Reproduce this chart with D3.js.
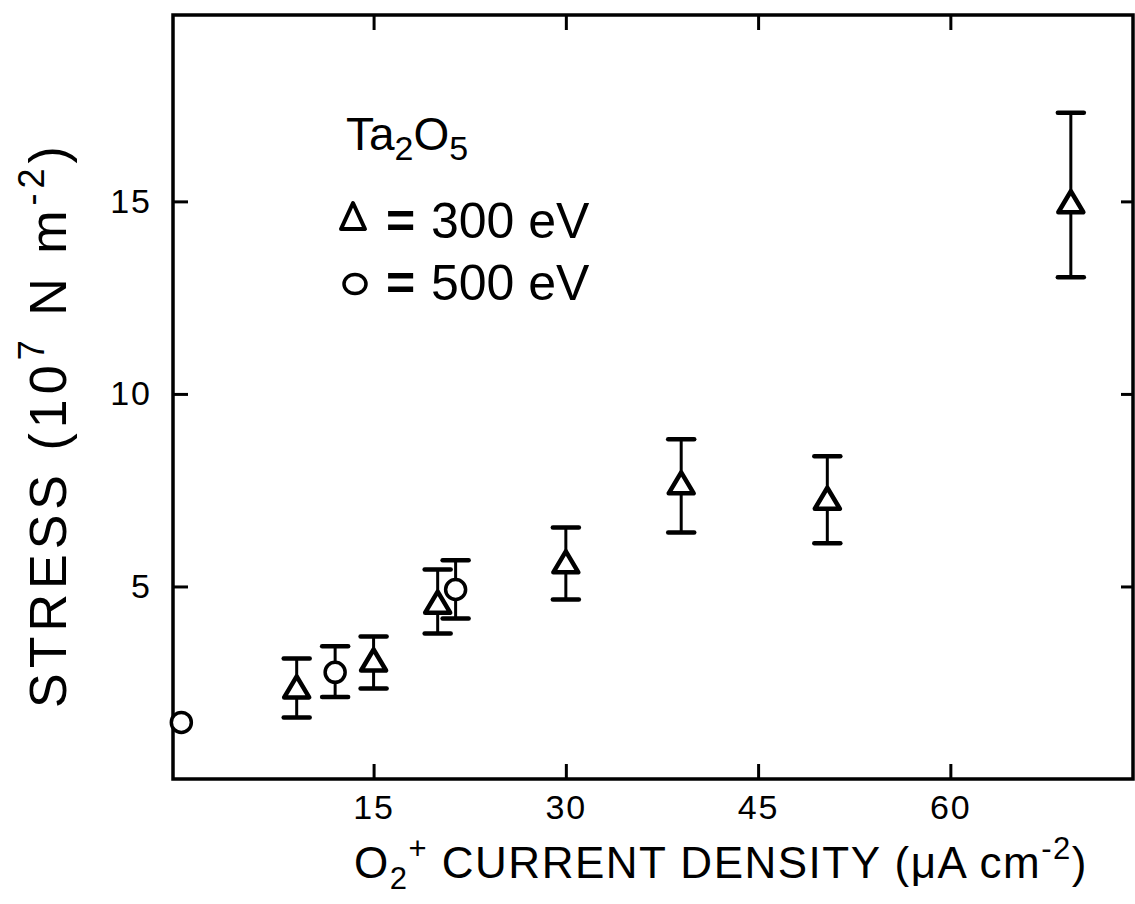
<!DOCTYPE html>
<html>
<head>
<meta charset="utf-8">
<script src="https://cdn.jsdelivr.net/npm/d3@7"></script>
<style>
  html, body { margin: 0; padding: 0; background: #fff; }
  svg text { font-family: "Liberation Sans", Arial, Helvetica, sans-serif; fill: #000; }
</style>
</head>
<body>
<svg id="chart" width="1135" height="904"></svg>
<script>
// Ta2O5 film stress versus O2+ current density
// 300 eV beam (triangles)
const triCurrent = [9, 15, 20, 30, 39, 50.4, 69.4];
const triStress  = [2.3, 3.0, 4.5, 5.55, 7.6, 7.2, 14.9];
const triHigh    = [3.13, 3.7, 5.44, 6.53, 8.82, 8.38, 17.3];
const triLow     = [1.6, 2.35, 3.78, 4.66, 6.4, 6.12, 13.03];

// 500 eV beam (circles); the first point has no error bar
const circCurrent = [0, 12, 21.4];
const circStress  = [1.47, 2.77, 4.92];
const circHigh    = [null, 3.45, 5.68];
const circLow     = [null, 2.13, 4.17];

const xTicks = [15, 30, 45, 60];
const yTicks = [5, 10, 15];

const legendLabels = ["300 eV", "500 eV"];

const svg = d3.select("#chart");
const plotL = 173, plotR = 1133, plotT = 15, plotB = 779;

const x = d3.scaleLinear().domain([-0.65, 74.25]).range([plotL, plotR]);
const y = d3.scaleLinear().domain([0, 19.84]).range([plotB, plotT]);

const ink = "#000";

// frame
svg.append("rect")
  .attr("x", plotL).attr("y", plotT)
  .attr("width", plotR - plotL).attr("height", plotB - plotT)
  .attr("fill", "none").attr("stroke", ink).attr("stroke-width", 3.5);

// axes with inward ticks
const tickLen = 15;
svg.append("g").attr("transform", `translate(0,${plotB})`)
  .call(d3.axisBottom(x).tickValues(xTicks).tickSizeInner(-tickLen).tickSizeOuter(0).tickPadding(16))
  .call(g => g.select(".domain").remove())
  .call(g => g.selectAll("line").attr("stroke", ink).attr("stroke-width", 3))
  .call(g => g.selectAll("text").attr("font-size", 34).attr("font-family", null)
    .attr("letter-spacing", 2).attr("dy", "0.71em"));

svg.append("g").attr("transform", `translate(0,${plotT})`)
  .call(d3.axisTop(x).tickValues(xTicks).tickSizeInner(-tickLen).tickSizeOuter(0).tickFormat(""))
  .call(g => g.select(".domain").remove())
  .call(g => g.selectAll("line").attr("stroke", ink).attr("stroke-width", 3));

svg.append("g").attr("transform", `translate(${plotL},0)`)
  .call(d3.axisLeft(y).tickValues(yTicks).tickSizeInner(-tickLen).tickSizeOuter(0).tickPadding(21))
  .call(g => g.select(".domain").remove())
  .call(g => g.selectAll("line").attr("stroke", ink).attr("stroke-width", 3))
  .call(g => g.selectAll("text").attr("font-size", 34).attr("font-family", null)
    .attr("letter-spacing", 2));

svg.append("g").attr("transform", `translate(${plotR},0)`)
  .call(d3.axisRight(y).tickValues(yTicks).tickSizeInner(-12).tickSizeOuter(0).tickFormat(""))
  .call(g => g.select(".domain").remove())
  .call(g => g.selectAll("line").attr("stroke", ink).attr("stroke-width", 3));

// error bars
const capW = 26;
function errorBars(xs, lo, hi) {
  const g = svg.append("g");
  xs.forEach((xv, i) => {
    if (lo[i] == null) return;
    const cx = x(xv);
    g.append("line").attr("x1", cx).attr("x2", cx)
      .attr("y1", y(lo[i])).attr("y2", y(hi[i]))
      .attr("stroke", ink).attr("stroke-width", 3);
    [lo[i], hi[i]].forEach(v => {
      g.append("line").attr("x1", cx - capW / 2).attr("x2", cx + capW / 2)
        .attr("y1", y(v)).attr("y2", y(v))
        .attr("stroke", ink).attr("stroke-width", 4.5)
        .attr("stroke-linecap", "round");
    });
  });
}
errorBars(triCurrent, triLow, triHigh);
errorBars(circCurrent, circLow, circHigh);

// markers
const triW = 25, triH = 21;
const triPath = `M0,${-triH * 2 / 3}L${triW / 2},${triH / 3}L${-triW / 2},${triH / 3}Z`;

svg.append("g").selectAll("path")
  .data(triCurrent.map((c, i) => [c, triStress[i]]))
  .join("path")
  .attr("d", triPath)
  .attr("transform", d => `translate(${x(d[0])},${y(d[1])})`)
  .attr("fill", "#fff").attr("stroke", ink).attr("stroke-width", 4.5)
  .attr("stroke-linejoin", "round");

svg.append("g").selectAll("circle")
  .data(circCurrent.map((c, i) => [c, circStress[i]]))
  .join("circle")
  .attr("cx", d => x(d[0])).attr("cy", d => y(d[1]))
  .attr("r", 10)
  .attr("fill", "#fff").attr("stroke", ink).attr("stroke-width", 3.5);

// legend
const lg = svg.append("g");
const f1 = lg.append("text").attr("x", 346).attr("y", 150).attr("font-size", 46);
f1.append("tspan").text("Ta");
f1.append("tspan").attr("dy", 10).attr("font-size", 34).text("2");
f1.append("tspan").attr("dy", -10).text("O");
f1.append("tspan").attr("dy", 10).attr("font-size", 34).text("5");

lg.append("path").attr("d", "M0,-17L12,9L-12,9Z")
  .attr("transform", "translate(353,220)")
  .attr("fill", "#fff").attr("stroke", ink).attr("stroke-width", 4)
  .attr("stroke-linejoin", "round");
lg.append("ellipse").attr("cx", 355).attr("cy", 284).attr("rx", 11).attr("ry", 9.5)
  .attr("fill", "#fff").attr("stroke", ink).attr("stroke-width", 3.5);

lg.selectAll("text.eq")
  .data(legendLabels)
  .join("text").attr("class", "eq")
  .attr("x", 386).attr("y", (d, i) => 238 + i * 62)
  .attr("font-size", 50).attr("font-weight", "bold")
  .text("=");

lg.selectAll("text.lab")
  .data(legendLabels)
  .join("text").attr("class", "lab")
  .attr("x", 431).attr("y", (d, i) => 238 + i * 62)
  .attr("font-size", 50)
  .attr("xml:space", "preserve")
  .text(d => d);

// x-axis title
const xt = svg.append("text").attr("x", 354).attr("y", 878).attr("font-size", 44)
  .attr("letter-spacing", 1.5);
xt.append("tspan").text("O");
xt.append("tspan").attr("dy", 11).attr("font-size", 31).text("2");
xt.append("tspan").attr("dy", -30).attr("font-size", 31).text("+");
xt.append("tspan").attr("dy", 19).text(" CURRENT DENSITY (\u03bcA cm");
xt.append("tspan").attr("dy", -19).attr("font-size", 31).text("-2");
xt.append("tspan").attr("dy", 19).text(")");

// y-axis title
const yt = svg.append("text")
  .attr("transform", "translate(66,708) rotate(-90)")
  .attr("font-size", 52).attr("letter-spacing", 5);
yt.append("tspan").text("STRESS (10");
yt.append("tspan").attr("dy", -22).attr("font-size", 36).text("7");
yt.append("tspan").attr("dy", 22).text(" N m");
yt.append("tspan").attr("dy", -22).attr("font-size", 36).text("-2");
yt.append("tspan").attr("dy", 22).text(")");
</script>
</body>
</html>
